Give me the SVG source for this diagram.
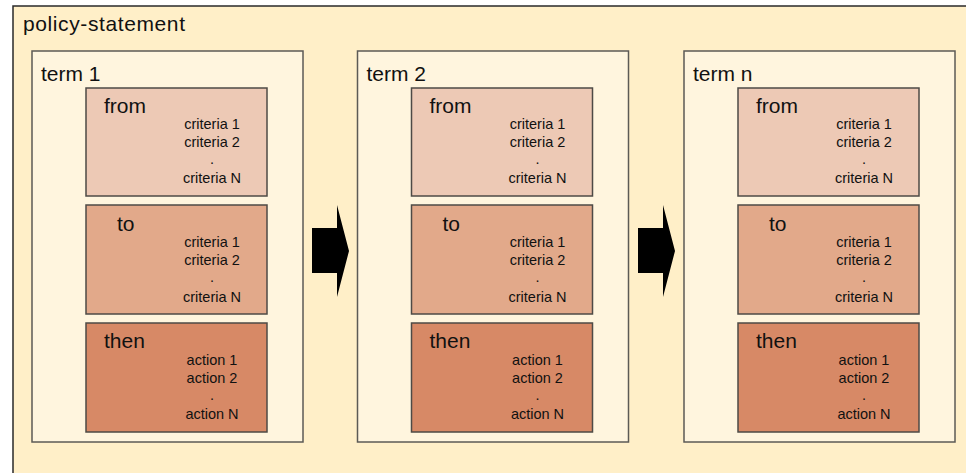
<svg xmlns="http://www.w3.org/2000/svg" width="966" height="473" viewBox="0 0 966 473">
  <style>
    text { font-family: "Liberation Sans", Arial, sans-serif; fill: #111; }
    .title { font-size: 21px; }
    .item { font-size: 14.5px; text-anchor: middle; }
    .term { fill: #FFF5DE; stroke: #5c5a55; stroke-width: 1.5; }
    .from { fill: #EDC9B5; stroke: #4e4a46; stroke-width: 1.5; }
    .to { fill: #E2A98A; stroke: #4e4a46; stroke-width: 1.5; }
    .then { fill: #D78966; stroke: #4e4a46; stroke-width: 1.5; }
    .arrow { fill: #000; }
  </style>
  <defs>
    <!-- one term: from / to / then blocks, positioned by translate -->
    <g id="clauses">
      <rect class="from" x="54" y="37" width="181" height="108"/>
      <text class="title" x="72" y="61.5">from</text>
      <text class="item" x="180" y="77.5">criteria 1</text>
      <text class="item" x="180" y="95.5">criteria 2</text>
      <text class="item" x="180" y="113">.</text>
      <text class="item" x="180" y="132">criteria N</text>

      <rect class="to" x="54" y="154" width="181" height="109"/>
      <text class="title" x="85" y="180">to</text>
      <text class="item" x="180" y="196">criteria 1</text>
      <text class="item" x="180" y="214">criteria 2</text>
      <text class="item" x="180" y="231">.</text>
      <text class="item" x="180" y="250.5">criteria N</text>

      <rect class="then" x="54" y="272" width="181" height="109"/>
      <text class="title" x="72" y="297">then</text>
      <text class="item" x="180" y="313.5">action 1</text>
      <text class="item" x="180" y="332">action 2</text>
      <text class="item" x="180" y="349">.</text>
      <text class="item" x="180" y="367.5">action N</text>
    </g>
  </defs>

  <rect width="966" height="473" fill="#ffffff"/>

  <!-- policy-statement container -->
  <g id="policy-statement">
    <rect x="13" y="6" width="970" height="480" fill="#FFEFC8" stroke="#2a2a2a" stroke-width="1.5"/>
    <text class="title" x="23" y="30.5" textLength="162" lengthAdjust="spacing">policy-statement</text>
  </g>

  <g id="term-1">
    <rect class="term" x="32" y="51" width="271" height="391"/>
    <text class="title" x="41" y="80.5">term 1</text>
    <use href="#clauses" transform="translate(32,51)"/>
  </g>

  <g id="term-2">
    <rect class="term" x="357.5" y="51" width="271" height="391"/>
    <text class="title" x="366.5" y="80.5">term 2</text>
    <use href="#clauses" transform="translate(357.5,51)"/>
  </g>

  <g id="term-n">
    <rect class="term" x="684" y="51" width="271" height="391"/>
    <text class="title" x="693" y="80.5">term n</text>
    <use href="#clauses" transform="translate(684,51)"/>
  </g>

  <!-- block arrows between terms -->
  <g id="connectors">
    <polygon class="arrow" points="312,228 337,228 337,205 349,251 337,297 337,273 312,273"/>
    <polygon class="arrow" points="638,228 663,228 663,205 675,251 663,297 663,273 638,273"/>
  </g>
</svg>
